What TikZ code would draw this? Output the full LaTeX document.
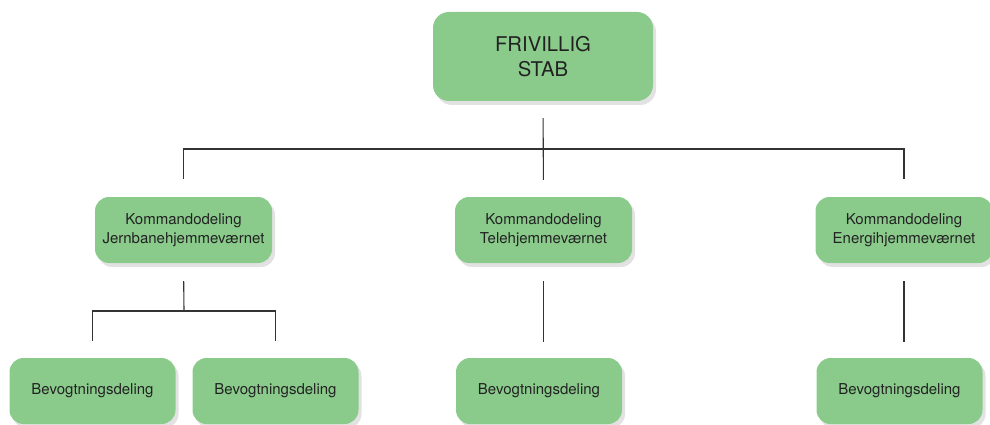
\documentclass[tikz,border=0pt]{standalone}
\usepackage{fontspec}
\setmainfont{TeX Gyre Heros}
\usepackage{tikz}
\usetikzlibrary{shadows}
\definecolor{boxgreen}{HTML}{8ACB8B}
\definecolor{ink}{HTML}{222222}
\definecolor{wire}{HTML}{333333}

\begin{document}
\begin{tikzpicture}[x=1pt,y=-1pt,
 box/.style={draw=none,fill=boxgreen,rounded corners=14pt,inner sep=0pt,align=center,text=ink,
  font=\fontsize{15}{18.5}\selectfont,
  drop shadow={shadow xshift=3pt,shadow yshift=-4pt,fill=black!14,opacity=.8}},
 link/.style={wire,line width=1.1pt}]
\useasboundingbox (0,0) rectangle (990,425);
% stab
\node[box,minimum width=220pt,minimum height=89pt,rounded corners=16pt,
 font=\fontsize{20.3}{25}\selectfont] (stab) at (543,56.5){FRIVILLIG\\STAB};
% kommandodelinger
\node[box,minimum width=177pt,minimum height=66pt] (jbv) at (183.5,230){Kommandodeling\\Jernbanehjemmeværnet};
\node[box,minimum width=177pt,minimum height=66pt] (tlf) at (543.5,230){Kommandodeling\\Telehjemmeværnet};
\node[box,minimum width=177pt,minimum height=66pt] (nrg) at (904,230){Kommandodeling\\Energihjemmeværnet};
% bevogtningsdelinger
\node[box,minimum width=166pt,minimum height=66pt] (bv1) at (92.5,391){Bevogtningsdeling};
\node[box,minimum width=166pt,minimum height=66pt] (bv2) at (275.5,391){Bevogtningsdeling};
\node[box,minimum width=166pt,minimum height=66pt] (bv3) at (539,391){Bevogtningsdeling};
\node[box,minimum width=166pt,minimum height=66pt] (bv4) at (899.5,391){Bevogtningsdeling};
% lines
\coordinate (bus) at (543,149);
\coordinate (sub) at (184,311);
\draw[link,shorten <=17pt,shorten >=17pt] (stab.south) -- (tlf.north);
\draw[link,shorten >=18pt] (bus) -| (jbv.north);
\draw[link,shorten >=18pt] (bus) -| (nrg.north);
\draw[link,shorten <=18pt] (jbv.south) -- (sub);
\draw[link,shorten >=17pt] (sub) -| (bv1.north);
\draw[link,shorten >=17pt] (sub) -| (bv2.north);
\draw[link,shorten <=18pt,shorten >=16pt] (tlf.south) -- (tlf.south |- bv3.north);
\draw[link,shorten <=18pt,shorten >=16pt] (nrg.south) -- (nrg.south |- bv4.north);
\end{tikzpicture}
\end{document}
